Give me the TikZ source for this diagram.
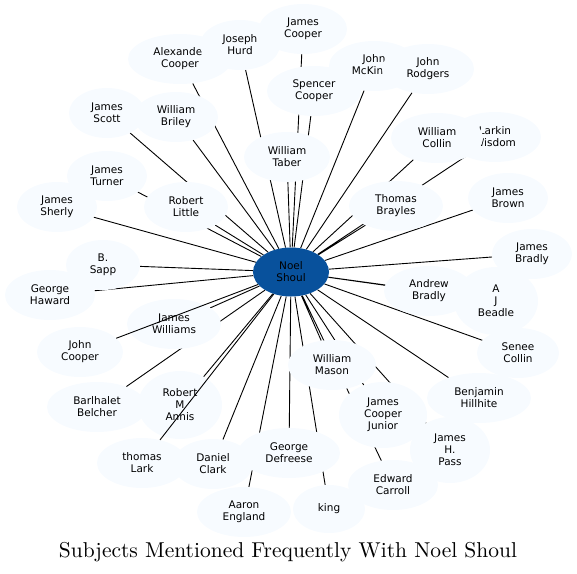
\documentclass[tikz,border=0pt]{standalone}
\usepackage{fontspec}
\newfontfamily\subjectfont{DejaVu Sans}
\newfontfamily\titlefont{lmroman10-regular.otf}
\usetikzlibrary{shapes.geometric}
\definecolor{subjectfill}{HTML}{F7FBFF}
\definecolor{hubfill}{HTML}{08519C}
\pgfdeclarelayer{spokes}
\pgfsetlayers{spokes,main}

\begin{document}
\begin{tikzpicture}[x=1pt,y=-1pt,
  subject/.style={ellipse,fill=subjectfill,inner sep=0pt,minimum width=86pt,minimum height=50pt,
    align=center,font=\subjectfont\fontsize{10.5}{12}\selectfont},
  tall/.style={subject,minimum height=68pt},
  hub/.style={subject,fill=hubfill,minimum width=76pt,minimum height=49pt},
  spoke/.style={line width=0.9pt}]
\useasboundingbox (0,0) rectangle (577,573);

\node[hub] (noel) at (291,272) {Noel\\Shoul};

\node[subject,minimum width=88pt] (jcooper) at (303,29) {James\\Cooper};
\node[subject,minimum width=104pt] (alexander) at (180,59) {Alexander\\Cooper};
\node[subject,minimum width=80pt] (hurd) at (240,45) {Joseph\\Hurd};
\node[subject,minimum width=94pt] (spencer) at (314,91) {Spencer\\Cooper};
\node[subject,minimum width=90pt] (mckinney) at (374,66) {John\\McKinny};
\node[subject,minimum width=92pt] (rodgers) at (428,69) {John\\Rodgers};
\node[subject,minimum width=76pt] (scott) at (107,113) {James\\Scott};
\node[subject,minimum width=84pt] (briley) at (176,117) {William\\Briley};
\node[subject] (taber) at (287,157) {William\\Taber};
\node[subject,minimum width=92pt] (wisdom) at (495,137) {Larkin\\Wisdom};
\node[subject,minimum width=92pt] (wcollin) at (437,138) {William\\Collin};
\node[subject,minimum width=80pt] (turner) at (107,176) {James\\Turner};
\node[subject,minimum width=80pt] (sherly) at (57,207) {James\\Sherly};
\node[subject,minimum width=84pt] (little) at (186,207) {Robert\\Little};
\node[subject,minimum width=94pt] (brayles) at (396,206) {Thomas\\Brayles};
\node[subject,minimum width=80pt] (brown) at (508,198) {James\\Brown};
\node[subject,minimum width=80pt] (jbradly) at (532,254) {James\\Bradly};
\node[subject,minimum width=74pt] (sapp) at (103,265) {B.\\Sapp};
\node[subject,minimum width=90pt] (haward) at (50,295) {George\\Haward};
\node[subject,minimum width=90pt] (abradly) at (429,291) {Andrew\\Bradly};
\node[tall,minimum width=84pt] (beadle) at (496,301) {A\\J\\Beadle};
\node[subject,minimum width=94pt] (williams) at (174,324) {James\\Williams};
\node[subject] (jncooper) at (80,352) {John\\Cooper};
\node[subject,minimum width=82pt] (scollin) at (518,353) {Senee\\Collin};
\node[subject,minimum width=88pt] (mason) at (332,365) {William\\Mason};
\node[subject,minimum width=104pt] (hillhite) at (479,398) {Benjamin\\Hillhite};
\node[subject,minimum width=100pt] (belcher) at (97,407) {Barlhalet\\Belcher};
\node[tall,minimum width=84pt] (annis) at (180,405) {Robert\\M\\Annis};
\node[tall,minimum width=88pt,minimum height=66pt] (junior) at (383,415) {James\\Cooper\\Junior};
\node[tall,minimum width=80pt,minimum height=66pt] (pass) at (450,450) {James\\H.\\Pass};
\node[subject,minimum width=90pt] (lark) at (142,463) {thomas\\Lark};
\node[subject,minimum width=80pt] (clark) at (213,464) {Daniel\\Clark};
\node[subject,minimum width=102pt] (defreese) at (289,453) {George\\Defreese};
\node[subject,minimum width=90pt] (carroll) at (393,485) {Edward\\Carroll};
\node[subject,minimum width=94pt] (england) at (244,512) {Aaron\\England};
\node[subject,minimum width=72pt,minimum height=48pt] (king) at (329,509) {king};

\begin{pgfonlayer}{spokes}
\draw[spoke] (noel) -- (jcooper) (noel) -- (alexander) (noel) -- (hurd) (noel) -- (spencer)
  (noel) -- (mckinney) (noel) -- (rodgers) (noel) -- (scott) (noel) -- (briley)
  (noel) -- (taber) (noel) -- (wisdom) (noel) -- (wcollin) (noel) -- (turner)
  (noel) -- (sherly) (noel) -- (little) (noel) -- (brayles) (noel) -- (brown)
  (noel) -- (jbradly) (noel) -- (sapp) (noel) -- (haward) (noel) -- (abradly)
  (noel) -- (beadle) (noel) -- (williams) (noel) -- (scollin) (noel) -- (mason)
  (noel) -- (hillhite) (noel) -- (belcher) (noel) -- (annis) (noel) -- (junior)
  (noel) -- (pass) (noel) -- (clark) (noel) -- (defreese) (noel) -- (carroll)
  (noel) -- (england) (noel) -- (king);
\end{pgfonlayer}
\draw[spoke] (noel) -- (jncooper) (noel) -- (lark);

\node[font=\titlefont\fontsize{21.5}{26}\selectfont,anchor=base] (title) at (288,557) {Subjects Mentioned Frequently With Noel Shoul};
\end{tikzpicture}
\end{document}
